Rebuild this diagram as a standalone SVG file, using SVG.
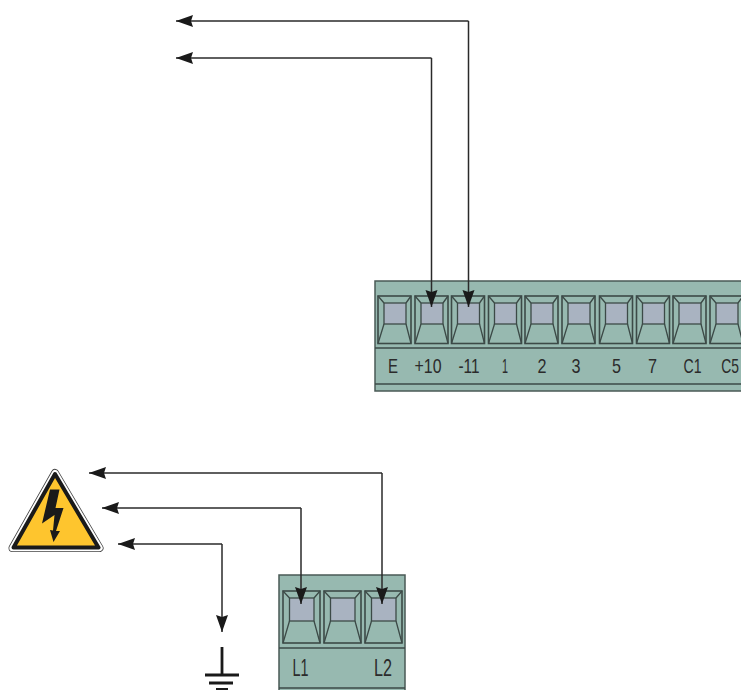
<svg xmlns="http://www.w3.org/2000/svg" width="741" height="690" viewBox="0 0 741 690">
<style>
.blk{fill:#97b9b0;stroke:#4a5a56;stroke-width:1.5}
.ln{stroke:#3c4a47;stroke-width:1.3;fill:none}
.win{fill:#a9b3c1;stroke:#3c4a47;stroke-width:1.3}
.t{fill:none;stroke:#3c4a47;stroke-width:1.6}
.w{fill:none;stroke:#2a2a2a;stroke-width:1.5}
.lab{font-family:"Liberation Sans",Arial,sans-serif;font-size:21px;fill:#2b2b2b;text-anchor:middle}
.labB{font-family:"Liberation Sans",Arial,sans-serif;font-size:24px;fill:#2b2b2b;text-anchor:middle}
.g{stroke:#1a1a1a;stroke-width:2.8;fill:none}
</style>
<defs>
<marker id="a" markerUnits="userSpaceOnUse" markerWidth="18" markerHeight="13" refX="17" refY="6.5" orient="auto"><path d="M0 0.500L17 6.500L0 12.500L2 6.500Z" fill="#1a1a1a"/></marker>
<g id="term">
<rect x="0" y="0" width="33" height="47.500" class="t"/>
<rect x="6" y="7" width="22" height="21" class="win"/>
<path d="M0 0L6 7M33 0L28 7M6 28L0 47.500M28 28L33 47.500" class="ln"/>
</g>
<g id="termB">
<rect x="0" y="0" width="37" height="52" class="t"/>
<rect x="6.500" y="7" width="24.500" height="23" class="win"/>
<path d="M0 0L6.500 7M37 0L31 7M6.500 30L0 52M31 30L37 52" class="ln"/>
</g>
</defs>
<g id="block-top">
<rect x="375" y="281" width="368" height="110" class="blk"/>
<path d="M375 348H741M375 384H741" class="ln"/>
<use href="#term" x="378" y="296"/>
<use href="#term" x="415" y="296"/>
<use href="#term" x="451.500" y="296"/>
<use href="#term" x="488.500" y="296"/>
<use href="#term" x="525" y="296"/>
<use href="#term" x="562" y="296"/>
<use href="#term" x="599.500" y="296"/>
<use href="#term" x="636.500" y="296"/>
<use href="#term" x="673" y="296"/>
<use href="#term" x="710" y="296"/>
<g class="lab">
<text x="393" y="373" textLength="10" lengthAdjust="spacingAndGlyphs">E</text>
<text x="428" y="373" textLength="27" lengthAdjust="spacingAndGlyphs">+10</text>
<text x="469" y="373" textLength="21" lengthAdjust="spacingAndGlyphs">-11</text>
<text x="505" y="373" textLength="6" lengthAdjust="spacingAndGlyphs">1</text>
<text x="542" y="373" textLength="9" lengthAdjust="spacingAndGlyphs">2</text>
<text x="576" y="373" textLength="9" lengthAdjust="spacingAndGlyphs">3</text>
<text x="616.500" y="373" textLength="9" lengthAdjust="spacingAndGlyphs">5</text>
<text x="652.500" y="373" textLength="9" lengthAdjust="spacingAndGlyphs">7</text>
<text x="692.500" y="373" textLength="18" lengthAdjust="spacingAndGlyphs">C1</text>
<text transform="translate(730 373) scale(0.66 1)" x="0" y="0">C5</text>
</g>
</g>
<g id="block-bottom">
<rect x="279" y="575" width="126" height="117" class="blk"/>
<path d="M279 648H405M279 688H405" class="ln"/>
<use href="#termB" x="283" y="591"/>
<use href="#termB" x="324" y="591"/>
<use href="#termB" x="365" y="591"/>
<g class="labB">
<text x="300.500" y="676" textLength="16" lengthAdjust="spacingAndGlyphs">L1</text>
<text x="383" y="676" textLength="18" lengthAdjust="spacingAndGlyphs">L2</text>
</g>
</g>
<g id="warning">
<path d="M55 473L99.500 548H12.500Z" fill="#fff" stroke="#444" stroke-width="8" stroke-linejoin="round"/>
<path d="M55 473L99.500 548H12.500Z" fill="#fff" stroke="#fff" stroke-width="6.400" stroke-linejoin="round"/>
<path d="M55 474L98.500 547.500H13.500Z" fill="#fec52e" stroke="#1a1a1a" stroke-width="4" stroke-linejoin="round"/>
<path d="M50 489.500H59.500L55.500 508L63.500 508L56 531L60 531L53.500 542L50 530L53 530.500L54.500 515L42 523.500Z" fill="#1a1a1a"/>
</g>
<g id="ground">
<path d="M222 647V675M205 675H239M209 683H233M216 689.500H228" class="g"/>
</g>
<g id="connectors">
<path d="M468.500 21H176" class="w" marker-end="url(#a)"/>
<path d="M431.500 58H176" class="w" marker-end="url(#a)"/>
<path d="M468.500 21V307" class="w" marker-end="url(#a)"/>
<path d="M431.500 58V307" class="w" marker-end="url(#a)"/>
<path d="M382 473H89" class="w" marker-end="url(#a)"/>
<path d="M301 508H102" class="w" marker-end="url(#a)"/>
<path d="M222 544H118" class="w" marker-end="url(#a)"/>
<path d="M382 473V604" class="w" marker-end="url(#a)"/>
<path d="M301 508V604" class="w" marker-end="url(#a)"/>
<path d="M222 544V632" class="w" marker-end="url(#a)"/>
</g>
</svg>
